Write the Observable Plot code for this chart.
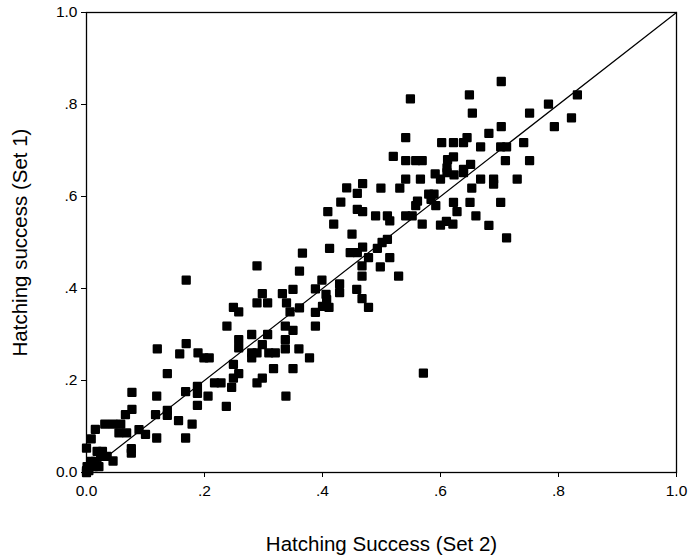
<!DOCTYPE html>
<html>
<head>
<meta charset="utf-8">
<script src="https://cdn.jsdelivr.net/npm/d3@7"></script>
<script src="https://cdn.jsdelivr.net/npm/@observablehq/plot@0.6"></script>
<style>
  html, body { margin: 0; padding: 0; background: #fff; }
  #chart { width: 694px; height: 556px; }
</style>
</head>
<body>
<div id="chart"></div>
<script>
// Hatching success, Set 2 (x) and Set 1 (y)
const set2 = [
  0.137,0.077,0.119,0.168,0.188,0.188,0.206,0.217,0.228,0.246,
  0.077,0.066,0.117,0.137,0.137,0.188,0.237,0.156,0.179,0.015,
  0.031,0.045,0.058,0.055,0.068,0.089,0.100,0.119,0.168,0.008,
  0.000,0.076,0.076,0.018,0.027,0.024,0.035,0.045,0.007,0.015,
  0.001,0.012,0.021,0.000,0.004,0.000,
  0.366,0.289,0.361,0.169,0.399,0.298,0.289,0.307,0.332,0.350,
  0.388,0.406,0.339,0.249,0.258,0.345,0.361,0.388,0.400,0.238,
  0.337,0.350,0.388,0.280,0.307,0.258,0.258,0.298,0.337,0.337,
  0.360,0.120,0.169,0.158,0.189,0.199,0.208,0.280,0.289,0.280,
  0.309,0.320,0.378,0.249,0.317,0.350,0.249,0.258,0.298,0.289,
  0.338,
  0.541,0.566,0.591,0.600,0.611,0.623,0.639,0.441,0.468,0.459,
  0.499,0.531,0.580,0.589,0.584,0.592,0.561,0.558,0.653,0.622,
  0.650,0.431,0.409,0.459,0.468,0.490,0.510,0.514,0.541,0.552,
  0.628,0.660,0.610,0.600,0.621,0.569,0.419,0.450,0.510,0.501,
  0.493,0.468,0.447,0.459,0.412,0.478,0.514,0.467,0.467,0.498,
  0.529,0.429,0.429,0.458,0.407,0.467,0.411,0.478,
  0.703,0.649,0.832,0.783,0.654,0.751,0.822,0.793,0.703,0.682,
  0.645,0.639,0.602,0.622,0.668,0.702,0.712,0.741,0.622,0.612,
  0.611,0.651,0.639,0.710,0.751,0.668,0.690,0.690,0.730,0.702,
  0.682,0.712,0.549,0.541,0.520,0.541,0.558,0.569,0.571
];
const set1 = [
  0.215,0.174,0.166,0.176,0.187,0.172,0.166,0.195,0.195,0.185,
  0.137,0.126,0.126,0.135,0.124,0.146,0.144,0.113,0.105,0.094,
  0.105,0.105,0.105,0.086,0.086,0.093,0.083,0.075,0.075,0.073,
  0.053,0.052,0.042,0.046,0.046,0.035,0.035,0.025,0.024,0.024,
  0.013,0.013,0.013,0.004,0.004,0.000,
  0.477,0.449,0.438,0.418,0.418,0.389,0.369,0.369,0.389,0.398,
  0.399,0.387,0.369,0.359,0.349,0.349,0.358,0.348,0.361,0.318,
  0.318,0.309,0.318,0.300,0.300,0.289,0.271,0.278,0.289,0.269,
  0.269,0.269,0.280,0.258,0.260,0.249,0.249,0.260,0.260,0.249,
  0.260,0.260,0.249,0.235,0.226,0.226,0.205,0.215,0.205,0.195,
  0.166,
  0.638,0.638,0.649,0.638,0.652,0.647,0.652,0.619,0.628,0.607,
  0.618,0.618,0.605,0.605,0.594,0.580,0.590,0.580,0.618,0.587,
  0.587,0.588,0.567,0.572,0.567,0.558,0.558,0.547,0.558,0.558,
  0.567,0.558,0.546,0.538,0.540,0.540,0.540,0.518,0.507,0.500,
  0.487,0.490,0.478,0.478,0.487,0.467,0.467,0.449,0.427,0.447,
  0.427,0.410,0.391,0.398,0.376,0.378,0.359,0.359,
  0.850,0.821,0.821,0.801,0.781,0.781,0.771,0.752,0.752,0.737,
  0.728,0.717,0.717,0.717,0.708,0.708,0.708,0.717,0.686,0.680,
  0.662,0.670,0.659,0.678,0.678,0.638,0.638,0.627,0.638,0.587,
  0.537,0.510,0.812,0.728,0.687,0.678,0.678,0.678,0.216
];
const tickValues = [0, 0.2, 0.4, 0.6, 0.8, 1.0];
const tickLabels = ["0.0", ".2", ".4", ".6", ".8", "1.0"];
const identityLine = [0, 1];
const xTitle = "Hatching Success (Set 2)";
const yTitle = "Hatching success (Set 1)";

const points = set2.map((x, i) => ({x, y: set1[i]}));
const fmt = v => tickLabels[tickValues.findIndex(t => Math.abs(t - v) < 1e-9)];

const chart = Plot.plot({
  width: 694,
  height: 556,
  marginLeft: 86,
  marginRight: 18,
  marginTop: 12,
  marginBottom: 84,
  style: {fontFamily: "'Liberation Sans', Arial, sans-serif", background: "#fff", color: "#000"},
  x: {domain: [0, 1]},
  y: {domain: [0, 1]},
  marks: [
    Plot.frame({stroke: "#000", strokeWidth: 1.3}),
    Plot.axisX({ticks: tickValues, tickFormat: fmt, tickSize: 5, tickPadding: 7, fontSize: 15.5, label: null, stroke: "#000"}),
    Plot.axisY({ticks: tickValues, tickFormat: fmt, tickSize: 5, tickPadding: 4, fontSize: 15.5, label: null, stroke: "#000"}),
    Plot.line(identityLine, {x: d => d, y: d => d, stroke: "#000", strokeWidth: 1.2}),
    Plot.dot(points, {x: "x", y: "y", symbol: "square", r: 4.1, fill: "#000", stroke: "#000", strokeWidth: 2, strokeLinejoin: "round"}),
    Plot.text([xTitle], {frameAnchor: "bottom", dy: 78, fontSize: 20.5, text: d => d, fill: "#000"}),
    Plot.text([yTitle], {frameAnchor: "left", dx: -66, rotate: -90, textAnchor: "middle", fontSize: 20.5, text: d => d, fill: "#000"})
  ]
});
document.getElementById("chart").appendChild(chart);
</script>
</body>
</html>
